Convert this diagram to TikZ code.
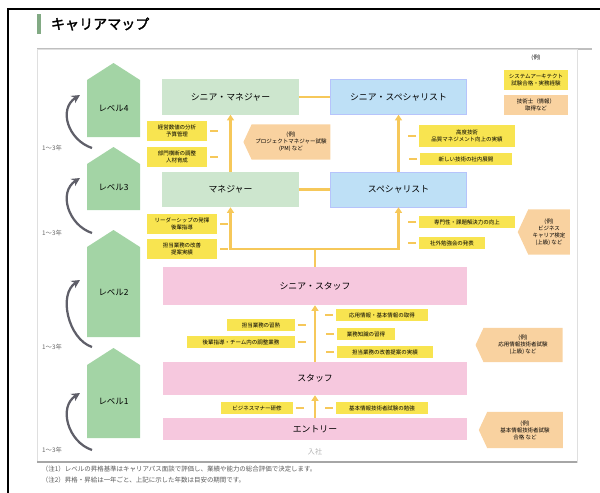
\documentclass[tikz,border=0pt]{standalone}
\usepackage{fontspec}
\usetikzlibrary{arrows.meta, shapes.symbols}
\newfontfamily\jp{Noto Sans CJK JP}
\newfontfamily\jpbold[FakeBold=2]{Noto Sans CJK JP}

\definecolor{lvgreen}{RGB}{163,212,165}
\definecolor{mgrgreen}{RGB}{205,230,206}
\definecolor{spcblue}{RGB}{190,224,246}
\definecolor{stfpink}{RGB}{246,200,222}
\definecolor{noteyel}{RGB}{248,228,80}
\definecolor{exorange}{RGB}{249,210,160}
\definecolor{connor}{RGB}{246,200,90}
\definecolor{arrgray}{RGB}{95,95,105}

\tikzset{
    rolebox/.style={draw=none, minimum height=0.875cm, minimum width=3.4cm, font=\jp\fontsize{6.3}{7}\selectfont},
    mgrbox/.style={rolebox, fill=mgrgreen},
    spcbox/.style={rolebox, fill=spcblue, draw=spcblue!70!blue!60, line width=0.4pt},
    stfbox/.style={rolebox, fill=stfpink, minimum width=7.6cm},
    notebox/.style={fill=noteyel, inner sep=1pt, align=center, minimum height=0.28cm, font=\jp\fontsize{3.9}{4.8}\selectfont},
    exbox/.style={shape=signal, signal to=west, signal pointer angle=130, fill=exorange, inner sep=1pt, align=center, font=\jp\fontsize{3.9}{5}\selectfont},
    conn/.style={connor, line width=2pt},
    upconn/.style={conn, -{Triangle[width=5pt,length=4pt]}},
    tick/.style={connor, line width=1pt},
    lvarrow/.style={arrgray, line width=1.6pt, -{Stealth[length=6pt,width=6pt]}},
}

\begin{document}
\begin{tikzpicture}[x=0.025cm, y=-0.025cm]
    \useasboundingbox (0,0) rectangle (600,493);

    % frame and title
    \draw[black, line width=1.3pt] (8,493) -- (8,9) -- (600,9);
    \fill[lvgreen!80!black] (37,14) rectangle (41,34);
    \node[anchor=west, font=\jpbold\fontsize{10}{12}\selectfont] (title) at (46,24) {キャリアマップ};
    \draw[gray!50, line width=0.8pt] (37,49) -- (592,49);
    \draw[gray!25] (37,49) rectangle (577,462);
    \draw[gray!70, line width=0.8pt] (37,462) -- (577,462);

    % levels
    \foreach \n/\top/\bot in {4/63/137, 3/147/210, 2/230/337, 1/348/438} {
        \pgfmathsetmacro{\sh}{\top+17}
        \pgfmathsetmacro{\mid}{(\sh+\bot)/2}
        \fill[lvgreen] (87,\sh) -- (113.5,\top) -- (140,\sh) -- (140,\bot) -- (87,\bot) -- cycle;
        \node[font=\jp\fontsize{6}{7}\selectfont] (lv\n) at (113.5,\mid) {レベル\n};
    }

    % steps between levels
    \foreach \n/\s/\e in {4/148/95, 3/233/178, 2/347/280, 1/450/393} {
        \coordinate (up\n-s) at (92,\s);
        \coordinate (up\n-e) at (80,\e);
        \draw[lvarrow] (up\n-s) .. controls (68,\s-8) and (58,\e+14) .. (up\n-e);
        \node[font=\jp\fontsize{4.5}{5}\selectfont, gray!80!black] (yr\n) at (52,\s) {1〜3年};
    }

    % roles
    \node[mgrbox] (smgr) at (230.5,97) {シニア・マネジャー};
    \node[spcbox] (sspc) at (398.5,97) {シニア・スペシャリスト};
    \node[mgrbox] (mgr) at (230.5,189.5) {マネジャー};
    \node[spcbox] (spc) at (398.5,189.5) {スペシャリスト};
    \node[stfbox, minimum height=0.95cm] (sstaff) at (315,286) {シニア・スタッフ};
    \node[stfbox, minimum height=0.825cm] (staff) at (315,378.5) {スタッフ};
    \node[stfbox, minimum height=0.55cm] (entry) at (315,429) {エントリー};
    \node[font=\jp\fontsize{5}{6}\selectfont, gray!60] (join) at (315,452) {入社};

    % connectors
    \draw[conn] (smgr.east) -- (sspc.west);
    \draw[conn] (mgr.east) -- (spc.west);
    \draw[upconn] (mgr.north) -- (smgr.south);
    \draw[upconn] (spc.north) -- (sspc.south);
    \coordinate (split) at (315,249);
    \draw[conn] (sstaff.north) -- (split);
    \draw[upconn] (split) -| (mgr.south);
    \draw[upconn] (split) -| (spc.south);
    \draw[upconn] (staff.north) -- (sstaff.south);
    \draw[upconn] (entry.north) -- (staff.south);

    % level 4 requirements
    \node[notebox, minimum width=1.5cm, minimum height=0.5cm] (nA) at (177,131) {経営数値の分析\\予算管理};
    \node[notebox, minimum width=1.5cm, minimum height=0.5cm] (nB) at (177,157) {部門横断の調整\\人材育成};
    \node[exbox, minimum width=2.175cm, minimum height=0.875cm] (exA) at (291,142) {(例)\\プロジェクトマネジャー試験\\(PM) など};
    \node[notebox, minimum width=2.375cm, minimum height=0.55cm] (nC) at (467,136) {高度技術\\品質マネジメント向上の実績};
    \node[notebox, minimum width=2.3cm, minimum height=0.3cm] (nD) at (466,159) {新しい技術の社内展開};
    \node[font=\jp\fontsize{3.9}{5}\selectfont] (exhead) at (536,58) {(例)};
    \node[notebox, minimum width=1.575cm, minimum height=0.5cm] (nTR) at (536,80) {システムアーキテクト\\試験合格・実務経験};
    \node[fill=exorange, inner sep=1pt, align=center, minimum width=1.575cm, minimum height=0.5cm, font=\jp\fontsize{3.9}{4.8}\selectfont] (exTR) at (536,105) {技術士（情報）\\取得など};

    % level 3 requirements
    \node[notebox, minimum width=1.75cm, minimum height=0.5cm] (nE) at (182,224) {リーダーシップの発揮\\後輩指導};
    \node[notebox, minimum width=1.75cm, minimum height=0.5cm] (nF) at (182,249) {担当業務の改善\\提案実績};
    \node[notebox, minimum width=2.375cm, minimum height=0.3cm] (nG) at (467,222) {専門性・課題解決力の向上};
    \node[notebox, minimum width=1.625cm, minimum height=0.3cm] (nH) at (452,243) {社外勉強会の発表};
    \node[exbox, minimum width=1.3cm, minimum height=1.125cm] (exI) at (549,232) {(例)\\ビジネス\\キャリア検定\\(上級) など};

    % level 2 requirements
    \node[notebox, minimum width=1.675cm] (nJ) at (261,325) {担当業務の習熟};
    \node[notebox, minimum width=2.675cm] (nK) at (241,342) {後輩指導・チーム内の調整業務};
    \node[notebox, minimum width=2.275cm] (nL) at (382,315) {応用情報・基本情報の取得};
    \node[notebox, minimum width=1.45cm] (nM) at (366,334) {業務知識の習得};
    \node[notebox, minimum width=2.4cm] (nN) at (385,352) {担当業務の改善提案の実績};
    \node[exbox, minimum width=2.175cm, minimum height=0.85cm] (exO) at (523,345) {(例)\\応用情報技術者試験\\(上級) など};

    % level 1 requirements
    \node[notebox, minimum width=1.775cm, minimum height=0.3cm] (nP) at (257,408) {ビジネスマナー研修};
    \node[notebox, minimum width=2.275cm, minimum height=0.3cm] (nQ) at (382,408) {基本情報技術者試験の勉強};
    \node[exbox, minimum width=2.1cm, minimum height=0.9cm] (exR) at (525,430) {(例)\\基本情報技術者試験\\合格 など};

    % ticks to the lines
    \foreach \b in {nA, nB, nE, nF, nJ, nK, nP}
        \draw[tick] (\b.east) ++(3,0) -- ++(8,0);
    \foreach \b in {nC, nD, nG, nH, nL, nM, nN, nQ}
        \draw[tick] (\b.west) ++(-3,0) -- ++(-8,0);

    % notes
    \node[anchor=west, font=\jp\fontsize{4.6}{5.5}\selectfont, gray!70!black] (note1) at (37,469) {（注1）レベルの昇格基準はキャリアパス面談で評価し、業績や能力の総合評価で決定します。};
    \node[anchor=west, font=\jp\fontsize{4.6}{5.5}\selectfont, gray!70!black] (note2) at (37,480) {（注2）昇格・昇給は一年ごと、上記に示した年数は目安の期間です。};
\end{tikzpicture}
\end{document}
